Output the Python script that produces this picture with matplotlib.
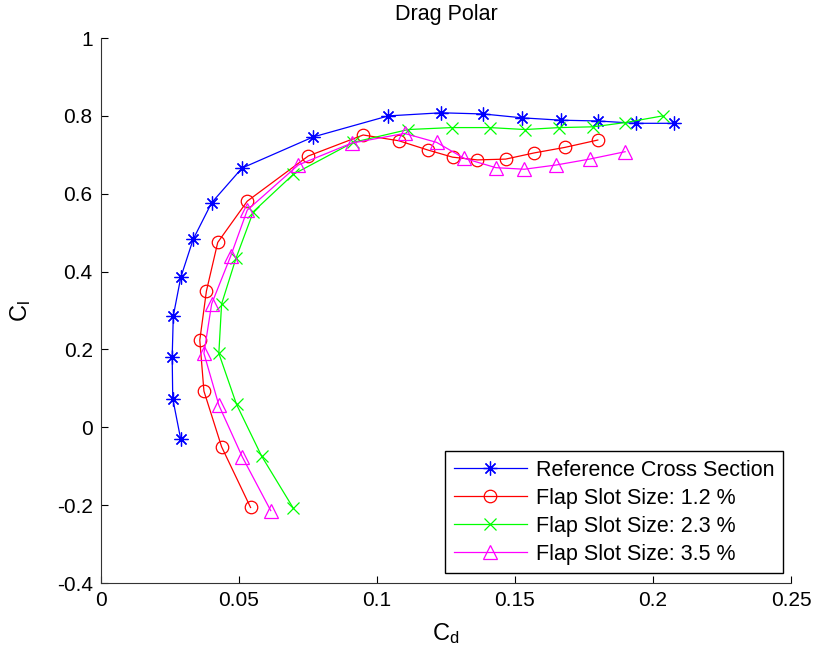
import numpy as np
import matplotlib
matplotlib.use("Agg")
import matplotlib.pyplot as plt
from matplotlib.ticker import FixedLocator, FuncFormatter

plt.rcParams['font.family'] = ['Liberation Sans', 'DejaVu Sans']
plt.rcParams['mathtext.fontset'] = 'custom'
plt.rcParams['mathtext.rm'] = 'Liberation Sans'
plt.rcParams['mathtext.it'] = 'Liberation Sans'
plt.rcParams['axes.unicode_minus'] = False

# Reference cross section
cd_ref = [0.0289, 0.0260, 0.0258, 0.0262, 0.0289, 0.0334, 0.0401, 0.0511, 0.0769,
          0.1041, 0.1232, 0.1385, 0.1527, 0.1666, 0.1800, 0.1938, 0.2077]
cl_ref = [-0.031, 0.074, 0.181, 0.286, 0.385, 0.483, 0.577, 0.666, 0.746,
          0.800, 0.808, 0.805, 0.795, 0.789, 0.787, 0.781, 0.781]

# Flap slot 1.2 %
cd_12 = [0.0542, 0.0437, 0.0373, 0.0358, 0.0382, 0.0423, 0.0530, 0.0751, 0.0950,
         0.1080, 0.1186, 0.1274, 0.1364, 0.1466, 0.1570, 0.1680, 0.1800]
cl_12 = [-0.206, -0.050, 0.093, 0.224, 0.350, 0.475, 0.581, 0.697, 0.751,
         0.736, 0.712, 0.694, 0.687, 0.689, 0.705, 0.719, 0.738]

# Flap slot 2.3 %
cd_23 = [0.0697, 0.0582, 0.0491, 0.0427, 0.0437, 0.0489, 0.0552, 0.0697, 0.0914,
         0.1113, 0.1270, 0.1409, 0.1536, 0.1660, 0.1784, 0.1900, 0.2035]
cl_23 = [-0.208, -0.074, 0.059, 0.190, 0.317, 0.434, 0.554, 0.650, 0.732,
         0.765, 0.770, 0.770, 0.765, 0.770, 0.772, 0.783, 0.800]

# Flap slot 3.5 %
cd_35 = [0.0615, 0.0512, 0.0427, 0.0373, 0.0401, 0.0470, 0.0530, 0.0715, 0.0908,
         0.1100, 0.1216, 0.1316, 0.1431, 0.1534, 0.1650, 0.1770, 0.1899]
cl_35 = [-0.214, -0.076, 0.057, 0.190, 0.317, 0.440, 0.558, 0.674, 0.730,
         0.755, 0.732, 0.691, 0.667, 0.663, 0.674, 0.689, 0.708]

labels = ['Reference Cross Section', 'Flap Slot Size: 1.2 %',
          'Flap Slot Size: 2.3 %', 'Flap Slot Size: 3.5 %']

x_ticks = [0, 0.05, 0.1, 0.15, 0.2, 0.25]
y_ticks = [-0.4, -0.2, 0, 0.2, 0.4, 0.6, 0.8, 1]

fig = plt.figure(figsize=(8.19, 6.55), dpi=100)
ax = fig.add_axes([0.1233, 0.1099, 0.8425, 0.832])

ax.plot(cd_ref, cl_ref, color='#0000ff', lw=0.9, marker=(8, 2, 0), ms=10, mew=0.9, label=labels[0])
ax.plot(cd_12, cl_12, color='#ff0000', lw=0.9, marker='o', ms=9, mfc='none', mew=0.9, label=labels[1])
ax.plot(cd_23, cl_23, color='#00ff00', lw=0.9, marker='x', ms=8, mew=0.9, label=labels[2])
ax.plot(cd_35, cl_35, color='#ff00ff', lw=0.9, marker='^', ms=10, mfc='none', mew=0.9, label=labels[3])

ax.set_xlim(0, 0.25)
ax.set_ylim(-0.4, 1)
ax.xaxis.set_major_locator(FixedLocator(x_ticks))
ax.yaxis.set_major_locator(FixedLocator(y_ticks))
fmt = FuncFormatter(lambda v, p: '%g' % round(v, 4))
ax.xaxis.set_major_formatter(fmt)
ax.yaxis.set_major_formatter(fmt)

ax.spines['top'].set_visible(False)
ax.spines['right'].set_visible(False)
for s in ['left', 'bottom']:
    ax.spines[s].set_linewidth(0.8)
    ax.spines[s].set_color('#333333')
ax.tick_params(direction='in', length=5, width=0.8, labelsize=15, pad=6,
               top=False, right=False)

ax.set_title('Drag Polar', fontsize=15.5, pad=13)
ax.set_xlabel(r'$\mathrm{C_d}$', fontsize=17, labelpad=8)
ax.set_ylabel(r'$\mathrm{C_l}$', fontsize=17, labelpad=17)

leg = ax.legend(loc='lower right', bbox_to_anchor=(0.988, 0.018), fontsize=15.5,
                frameon=True, fancybox=False, framealpha=1, edgecolor='black',
                handlelength=3.4, handletextpad=0.4, labelspacing=0.32,
                borderpad=0.4, borderaxespad=0)
leg.get_frame().set_linewidth(1.0)

fig.savefig('out.png', dpi=100)
